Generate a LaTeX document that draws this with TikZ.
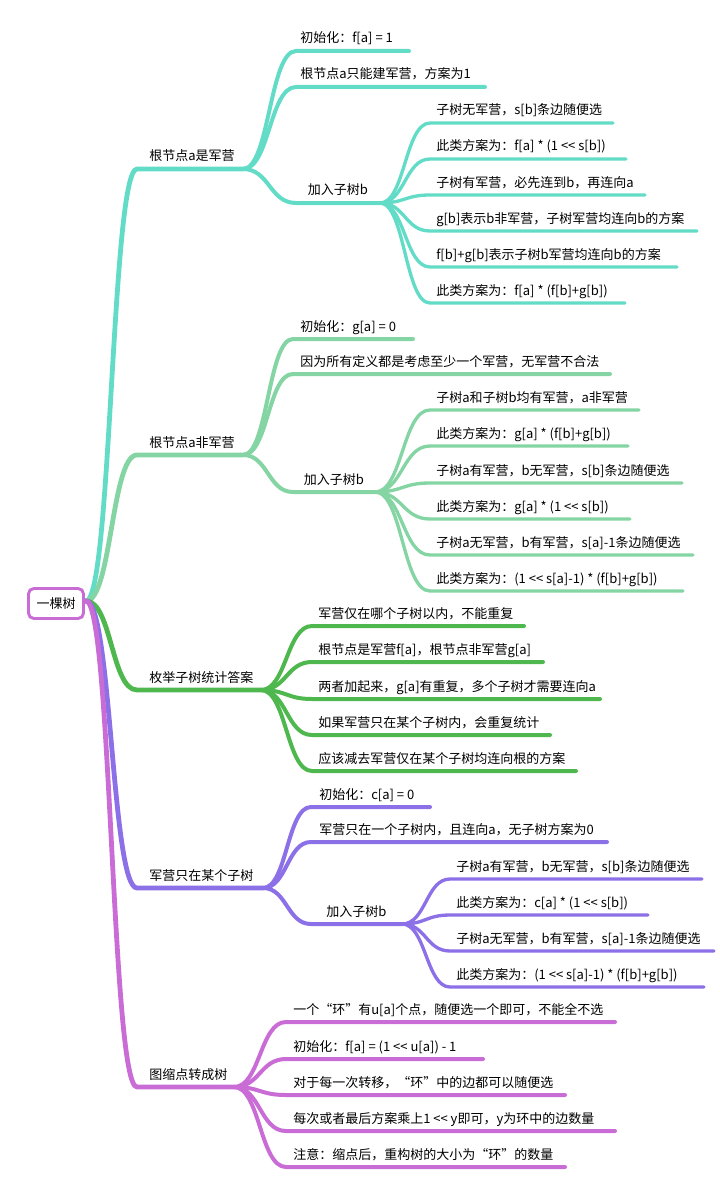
\documentclass[tikz,border=0pt]{standalone}
\usepackage{fontspec}
\newfontfamily\cjk{Noto Sans CJK SC}
\usetikzlibrary{calc}
\definecolor{teal1}{RGB}{98,220,198}
\definecolor{mint}{RGB}{132,213,163}
\definecolor{grass}{RGB}{78,184,78}
\definecolor{lilac}{RGB}{140,112,232}
\definecolor{orchid}{RGB}{201,108,214}
\tikzset{txt/.style={anchor=base west, inner sep=0pt, font=\fontsize{9.75}{12}\selectfont\cjk},
  hub/.style={txt, anchor=base},
  rootbox/.style={draw=orchid, line width=2.2pt, rounded corners=4pt, fill=white, minimum width=41.25pt, minimum height=22.5pt, inner sep=0pt, font=\fontsize{9.75}{12}\selectfont\cjk},
  branch/.style={to path={let \p1=(\tikztostart), \p2=(\tikztotarget) in .. controls ({(\x1+\x2)/2},\y1) and ({(\x1+\x2)/2},\y2) .. (\tikztotarget)}},
  trunk/.style={line width=3.6pt, line cap=round},
  bough/.style={line width=3pt, line cap=round},
  twig/.style={line width=2.5pt, line cap=round}}

\begin{document}
\begin{tikzpicture}[x=0.75pt,y=-0.75pt]
\useasboundingbox (0,0) rectangle (720,1177);
\coordinate (root-r) at (86,601);
% first level
\foreach \nm/\col/\yy/\e/\lab in {s1/teal1/169/243/根节点a是军营, s2/mint/455/243/根节点a非军营, s3/grass/690/261/枚举子树统计答案, s4/lilac/888/263/军营只在某个子树, s5/orchid/1087/234/图缩点转成树}{
  \coordinate (\nm-l) at (137,\yy);
  \coordinate (\nm-r) at (\e,\yy);
  \node[txt] (\nm) at (149,\yy-8) {\lab};
  \draw[trunk,draw=\col] (root-r) to[branch] (\nm-l) -- (\nm-r);
}
\node[rootbox] (root) at (56,603.5) {一棵树};

% hubs "加入子树b"
\foreach \nm/\p/\col/\xs/\yy/\e in {s1h/s1/teal1/296/203/380, s2h/s2/mint/293/492/375, s4h/s4/lilac/311/924/402}{
  \coordinate (\nm-l) at (\xs,\yy);
  \coordinate (\nm-r) at (\e,\yy);
  \node[hub] (\nm) at ({(\xs+\e)/2},\yy-8) {加入子树b};
  \draw[bough,draw=\col] (\p-r) to[branch] (\nm-l) -- (\nm-r);
}

% root is a camp
\foreach \nm/\yy/\e/\lab in {s1a/51/409/{初始化：f[a] = 1}, s1b/87/485/根节点a只能建军营，方案为1}{
  \coordinate (\nm-l) at (296,\yy); \coordinate (\nm-r) at (\e,\yy);
  \node[txt] (\nm) at (300,\yy-8) {\lab};
  \draw[bough,draw=teal1] (s1-r) to[branch] (\nm-l) -- (\nm-r);
}
\foreach \nm/\yy/\e/\lab in {s1h1/123/613/子树无军营，s[b]条边随便选, s1h2/159/626/{此类方案为：f[a] * (1 <{}< s[b])}, s1h3/195/645/子树有军营，必先连到b，再连向a, s1h4/231/697/g[b]表示b非军营，子树军营均连向b的方案, s1h5/267/677/f[b]+g[b]表示子树b军营均连向b的方案, s1h6/303/625/{此类方案为：f[a] * (f[b]+g[b])}}{
  \coordinate (\nm-l) at (430,\yy); \coordinate (\nm-r) at (\e,\yy);
  \node[txt] (\nm) at (436,\yy-8) {\lab};
  \draw[twig,draw=teal1] (s1h-r) to[branch] (\nm-l) -- (\nm-r);
}

% root is not a camp
\foreach \nm/\yy/\e/\lab in {s2a/339/413/{初始化：g[a] = 0}, s2b/374/610/因为所有定义都是考虑至少一个军营，无军营不合法}{
  \coordinate (\nm-l) at (293,\yy); \coordinate (\nm-r) at (\e,\yy);
  \node[txt] (\nm) at (300,\yy-8) {\lab};
  \draw[bough,draw=mint] (s2-r) to[branch] (\nm-l) -- (\nm-r);
}
\foreach \nm/\yy/\e/\lab in {s2h1/410/639/子树a和子树b均有军营，a非军营, s2h2/446/628/{此类方案为：g[a] * (f[b]+g[b])}, s2h3/483/682/子树a有军营，b无军营，s[b]条边随便选, s2h4/519/630/{此类方案为：g[a] * (1 <{}< s[b])}, s2h5/555/693/子树a无军营，b有军营，s[a]-1条边随便选, s2h6/591/683/{此类方案为：(1 <{}< s[a]-1) * (f[b]+g[b])}}{
  \coordinate (\nm-l) at (430,\yy); \coordinate (\nm-r) at (\e,\yy);
  \node[txt] (\nm) at (436,\yy-8) {\lab};
  \draw[twig,draw=mint] (s2h-r) to[branch] (\nm-l) -- (\nm-r);
}

% counting the answer
\foreach \nm/\yy/\e/\lab in {s3a/626/524/军营仅在哪个子树以内，不能重复, s3b/662/543/根节点是军营f[a]，根节点非军营g[a], s3c/699/600/两者加起来，g[a]有重复，多个子树才需要连向a, s3d/735/550/如果军营只在某个子树内，会重复统计, s3e/771/576/应该减去军营仅在某个子树均连向根的方案}{
  \coordinate (\nm-l) at (312,\yy); \coordinate (\nm-r) at (\e,\yy);
  \node[txt] (\nm) at (318,\yy-8) {\lab};
  \draw[bough,draw=grass] (s3-r) to[branch] (\nm-l) -- (\nm-r);
}

% camps in one subtree only
\foreach \nm/\yy/\e/\lab in {s4a/807/430/{初始化：c[a] = 0}, s4b/842/607/军营只在一个子树内，且连向a，无子树方案为0}{
  \coordinate (\nm-l) at (311,\yy); \coordinate (\nm-r) at (\e,\yy);
  \node[txt] (\nm) at (319,\yy-8) {\lab};
  \draw[bough,draw=lilac] (s4-r) to[branch] (\nm-l) -- (\nm-r);
}
\foreach \nm/\yy/\e/\lab in {s4h1/879/702/子树a有军营，b无军营，s[b]条边随便选, s4h2/915/648/{此类方案为：c[a] * (1 <{}< s[b])}, s4h3/951/714/子树a无军营，b有军营，s[a]-1条边随便选, s4h4/987/704/{此类方案为：(1 <{}< s[a]-1) * (f[b]+g[b])}}{
  \coordinate (\nm-l) at (450,\yy); \coordinate (\nm-r) at (\e,\yy);
  \node[txt] (\nm) at (456,\yy-8) {\lab};
  \draw[twig,draw=lilac] (s4h-r) to[branch] (\nm-l) -- (\nm-r);
}

% contracted graph
\foreach \nm/\yy/\e/\lab in {s5a/1022/615/一个“环”有u[a]个点，随便选一个即可，不能全不选, s5b/1059/483/{初始化：f[a] = (1 <{}< u[a]) - 1}, s5c/1095/565/对于每一次转移，“环”中的边都可以随便选, s5d/1131/615/{每次或者最后方案乘上1 <{}< y即可，y为环中的边数量}, s5e/1167/565/注意：缩点后，重构树的大小为“环”的数量}{
  \coordinate (\nm-l) at (286,\yy); \coordinate (\nm-r) at (\e,\yy);
  \node[txt] (\nm) at (293,\yy-8) {\lab};
  \draw[bough,draw=orchid] (s5-r) to[branch] (\nm-l) -- (\nm-r);
}
\end{tikzpicture}
\end{document}
